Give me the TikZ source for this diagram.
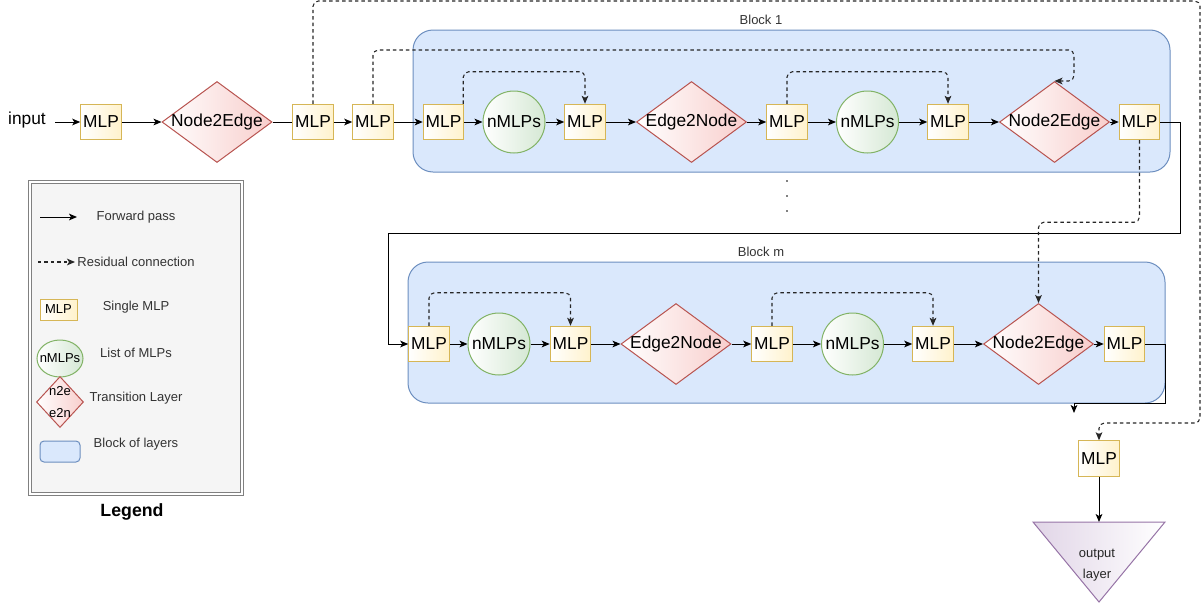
\documentclass[tikz,border=0pt]{standalone}
\usepackage{fontspec}
\setmainfont{Liberation Sans}
\usetikzlibrary{arrows.meta,shapes.geometric}
\definecolor{yfill}{HTML}{FFF2CC}
\definecolor{ydraw}{HTML}{D6B656}
\definecolor{rfill}{HTML}{F8CECC}
\definecolor{rdraw}{HTML}{B85450}
\definecolor{gfill}{HTML}{D5E8D4}
\definecolor{gdraw}{HTML}{82B366}
\definecolor{bfill}{HTML}{DAE8FC}
\definecolor{bdraw}{HTML}{6C8EBF}
\definecolor{pfill}{HTML}{E1D5E7}
\definecolor{pdraw}{HTML}{9673A6}
\definecolor{legfill}{HTML}{F5F5F5}
\newcommand\myBig{\fontsize{13}{15.6}\selectfont}
\newcommand\mySmall{\fontsize{9.75}{11.7}\selectfont}
\begin{document}
\begin{tikzpicture}[x=0.75pt,y=-0.75pt,
 mlp/.style={draw=ydraw, line width=0.75pt, left color=white, right color=yfill, minimum width=30.4pt, minimum height=26.6pt, inner sep=0pt, font=\myBig},
 nmlp/.style={circle, draw=gdraw, line width=0.75pt, left color=white, right color=gfill, minimum size=46.5pt, inner sep=0pt, font=\myBig},
 trans/.style={diamond, draw=rdraw, line width=0.75pt, left color=white, right color=rfill, minimum width=82.5pt, minimum height=60.75pt, inner sep=0pt},
 blockbox/.style={draw=bdraw, line width=0.75pt, fill=bfill, rounded corners=15pt, minimum width=567.75pt, inner sep=0pt},
 fw/.style={draw=black, line width=0.75pt, -{Stealth[length=6pt,width=5pt,inset=1.5pt]}},
 res/.style={fw, draw=black!85, line width=0.8pt, dash pattern=on 2.6pt off 2.25pt, rounded corners=4pt},
 plain/.style={draw=black, line width=0.75pt},
 lbl/.style={font=\mySmall, text=black!80, inner sep=0pt},
]
\useasboundingbox (0,0) rectangle (1203,607);

% legend
\node[draw=black!50, double=white, double distance=1.1pt, line width=0.65pt, fill=legfill, minimum width=159pt, minimum height=234pt, inner sep=0pt] (leg) at (136,338) {};
\coordinate (lf1) at (40,217); \coordinate (lf2) at (77,217);
\draw[fw] (lf1) -- (lf2);
\node[lbl] (lfT) at (136,217) {Forward pass};
\coordinate (lr1) at (38,262); \coordinate (lr2) at (75,262);
\draw[res] (lr1) -- (lr2);
\node[lbl] (lrT) at (136,262) {Residual connection};
\node[mlp, minimum width=27.75pt, minimum height=15.75pt, font=\mySmall] (lm) at (58.5,309.5) {MLP};
\node[lbl] (lmT) at (136,307) {Single MLP};
\node[ellipse, draw=gdraw, line width=0.75pt, left color=white, right color=gfill, minimum width=34.5pt, minimum height=27.75pt, inner sep=0pt, label={[font=\mySmall]center:nMLPs}] (lc) at (60,358.5) {};
\node[lbl] (lcT) at (136,353) {List of MLPs};
\node[trans, minimum width=35.25pt, minimum height=38.25pt, label={[font=\fontsize{9.75}{16.5}\selectfont, align=center]center:n2e\\e2n}] (ld) at (60,402) {};
\node[lbl] (ldT) at (136,398) {Transition Layer};
\node[draw=bdraw, line width=0.75pt, fill=bfill, rounded corners=3pt, minimum width=30pt, minimum height=15.75pt, inner sep=0pt] (lb) at (60,451.5) {};
\node[lbl] (lbT) at (136,444) {Block of layers};
\node[font=\bfseries\fontsize{13.3}{16}\selectfont, inner sep=0pt] (legT) at (132,512) {Legend};

% blocks
\node[blockbox, minimum height=106.5pt] (block1) at (791.5,101) {};
\node[lbl] (block1T) at (761,20) {Block 1};
\node[blockbox, minimum height=105.75pt] (blockm) at (786.5,332.5) {};
\node[lbl] (blockmT) at (761,252) {Block m};

% top row
\node[font=\myBig, inner sep=0pt] (inp) at (27,120) {input};
\node[mlp] (m1) at (101,122) {MLP};
\node[trans, label={[font=\myBig]center:Node2Edge}] (ne1) at (217,122) {};
\node[mlp] (m2) at (313,122) {MLP};
\node[mlp] (m3) at (373,122) {MLP};

% block 1
\node[mlp] (b1m1) at (443.5,122) {MLP};
\node[nmlp] (b1c1) at (514,122) {nMLPs};
\node[mlp] (b1m2) at (585,122) {MLP};
\node[trans, label={[font=\myBig]center:Edge2Node}] (b1d1) at (691.5,122) {};
\node[mlp] (b1m3) at (787,122) {MLP};
\node[nmlp] (b1c2) at (867.5,122) {nMLPs};
\node[mlp] (b1m4) at (948,122) {MLP};
\node[trans, label={[font=\myBig]center:Node2Edge}] (b1d2) at (1054.5,122) {};
\node[mlp] (b1m5) at (1139.5,122) {MLP};

% dots
\fill (787,181) circle (0.9);
\fill (787,196) circle (0.9);
\fill (787,211) circle (0.9);

% block m
\node[mlp] (bmm1) at (429,344) {MLP};
\node[nmlp] (bmc1) at (499,344) {nMLPs};
\node[mlp] (bmm2) at (570.5,344) {MLP};
\node[trans, label={[font=\myBig]center:Edge2Node}] (bmd1) at (676,344) {};
\node[mlp] (bmm3) at (772,344) {MLP};
\node[nmlp] (bmc2) at (852.5,344) {nMLPs};
\node[mlp] (bmm4) at (933,344) {MLP};
\node[trans, label={[font=\myBig]center:Node2Edge}] (bmd2) at (1038.5,344) {};
\node[mlp] (bmm5) at (1124.5,344) {MLP};
\coordinate (endm) at (1074,413);

% output
\node[mlp] (om) at (1099,458.5) {MLP};
\path[draw=pdraw, line width=0.75pt, left color=pfill, right color=white] (1033,522) -- (1165,522) -- (1099,602) -- cycle;
\coordinate (oltop) at (1099,522);
\node[font=\fontsize{9.75}{15.75}\selectfont, align=center, inner sep=0pt, text=black!85] (olT) at (1097,565) {output\\layer};

% forward connectors
\draw[fw] ([xshift=6.75pt]inp.east |- m1.west) -- (m1.west);
\draw[fw] (m1) -- (ne1);
\draw[plain] (ne1) -- (m2);
\draw[fw] (m2) -- (m3);
\draw[fw] (m3) -- (b1m1);
\draw[fw] (b1m1) -- (b1c1);
\draw[fw] (b1c1) -- (b1m2);
\draw[fw] (b1m2) -- (b1d1);
\draw[fw] (b1d1) -- (b1m3);
\draw[fw] (b1m3) -- (b1c2);
\draw[fw] (b1c2) -- (b1m4);
\draw[fw] (b1m4) -- (b1d2);
\draw[fw] (b1d2) -- (b1m5);
\draw[fw] (b1m5.east) -| (1180,233) -| (388,344) -- (bmm1.west);
\draw[fw] (bmm1) -- (bmc1);
\draw[fw] (bmc1) -- (bmm2);
\draw[fw] (bmm2) -- (bmd1);
\draw[fw] (bmd1) -- (bmm3);
\draw[fw] (bmm3) -- (bmc2);
\draw[fw] (bmc2) -- (bmm4);
\draw[fw] (bmm4) -- (bmd2);
\draw[fw] (bmd2) -- (bmm5);
\draw[fw] (bmm5.east) -| (1165,403) -| (endm);
\draw[fw] (om) -- (oltop);

% residual connectors
\draw[res] (m2.north) |- (1200,1) -- (1200,423) -| (om.north);
\draw[res] (m3.north) |- (1074,50) |- (b1d2.north);
\draw[res] ([xshift=-0.75pt]b1m1.north east) -- ++(0,-32) -| (b1m2.north);
\draw[res] (b1m3.north) -- ++(0,-32) -| (b1m4.north);
\draw[res] (b1m5.south) -- ++(0,82) -| (bmd2.north);
\draw[res] (bmm1.north) -- ++(0,-33) -| (bmm2.north);
\draw[res] (bmm3.north) -- ++(0,-33) -| (bmm4.north);
\end{tikzpicture}
\end{document}
